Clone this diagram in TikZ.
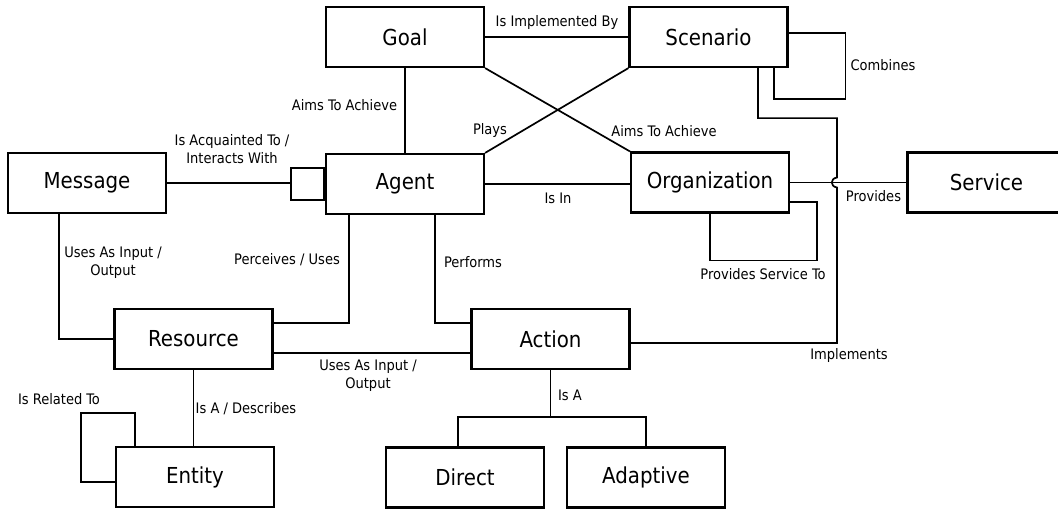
\documentclass[tikz,border=0pt]{standalone}
\usepackage{fontspec}
\setmainfont{DejaVu Sans Condensed}
\usetikzlibrary{calc}
\begin{document}
\begin{tikzpicture}[x=1pt,y=-1pt,
  entity/.style={draw=black,line width=2.2pt,fill=white,minimum width=158pt,minimum height=60pt,
    inner sep=0pt,font=\fontsize{22}{26}\selectfont,text=black},
  port/.style={draw=black,line width=1.8pt,fill=white,minimum width=33pt,minimum height=32pt,inner sep=0pt},
  link/.style={draw=black,line width=1.7pt},
  lbl/.style={font=\fontsize{14.5}{18}\selectfont,text=black,inner sep=0pt,align=center}]
\useasboundingbox (0,0) rectangle (1058,509);

% entities
\node[entity] (goal)     at (405,37)     {Goal};
\node[entity] (scenario) at (708.5,37)   {Scenario};
\node[entity] (message)  at (87,183)     {Message};
\node[entity] (agent)    at (405,184)    {Agent};
\node[entity] (org)      at (710,182.5)  {Organization};
\node[entity] (service)  at (986.5,182.5){Service};
\node[entity] (resource) at (193.5,339)  {Resource};
\node[entity] (action)   at (550.5,339)  {Action};
\node[entity] (entityn)  at (195,477)    {Entity};
\node[entity] (direct)   at (465,477.5)  {Direct};
\node[entity] (adaptive) at (646,477.5)  {Adaptive};
\node[port, anchor=east] (port) at (agent.west) {};

% relations
\draw[link] (goal.east) -- (scenario.west);
\draw[link] (goal.south) -- (agent.north);
\draw[link] (goal.south east) -- (org.north west);
\draw[link] (agent.north east) -- (scenario.south west);
\draw[link] (message.east) -- (message.east -| port.west);
\draw[link] (agent.east) -- (agent.east -| org.west);
\draw[link] (org.east) -- (service.west);
\draw[link] ([xshift=-28pt]message.south) |- (resource.west);
\draw[link] ([xshift=-56pt]agent.south) |- ([yshift=16pt]resource.east);
\draw[link] ([xshift=30pt]agent.south) |- ([yshift=16pt]action.west);
\draw[link] ([yshift=-14pt]resource.east) -- ([yshift=-14pt]action.west);
\draw[link] (resource.south) -- (resource.south |- entityn.north);

% self relations
\draw[link] ([xshift=-60pt]entityn.north) -- ++(0,-33) -| ([xshift=-34pt,yshift=-5pt]entityn.west)
  -- ([yshift=-5pt]entityn.west);
\draw[link] (org.south) -- ++(0,47) -| ([xshift=27pt,yshift=-19.5pt]org.east)
  -- ([yshift=-19.5pt]org.east);
\draw[link] ([yshift=4pt]scenario.east) -- ++(57,0) |- ([xshift=65.5pt,yshift=-31pt]scenario.south)
  -- ([xshift=65.5pt]scenario.south);

% scenario implements action, hopping over the service line
\coordinate (impA) at ([xshift=49.5pt]scenario.south);
\coordinate (impB) at ($(impA)+(79,50)$);
\coordinate (hop) at (impB |- org.east);
\coordinate (actR) at ([yshift=-4pt]action.east);
\draw[link] (impA) -- ++(0,50) -- (impB) -- ([yshift=5pt]hop)
  .. controls ([xshift=-7pt,yshift=4pt]hop) and ([xshift=-7pt,yshift=-4pt]hop) .. ([yshift=-5pt]hop)
  -- (impB |- actR) -- (actR);

% action kinds
\coordinate (split) at ($(action.south)+(0,47)$);
\draw[link] (action.south) -- (split);
\draw[link] ([xshift=-7pt]direct.north) |- (adaptive.north |- split) -- (adaptive.north);

% labels
\node[lbl] (l1)  at (557,22)    {Is Implemented By};
\node[lbl] (l2)  at (344.5,105) {Aims To Achieve};
\node[lbl] (l3)  at (232,149)   {Is Acquainted To /\\Interacts With};
\node[lbl] (l4)  at (490,130)   {Plays};
\node[lbl] (l5)  at (664,131)   {Aims To Achieve};
\node[lbl] (l6)  at (883,65)    {Combines};
\node[lbl] (l7)  at (558,198)   {Is In};
\node[lbl] (l8)  at (873.5,196) {Provides};
\node[lbl] (l9)  at (763,274)   {Provides Service To};
\node[lbl] (l10) at (113,262.5) {Uses As Input /\\Output};
\node[lbl] (l11) at (287,260)   {Perceives / Uses};
\node[lbl] (l12) at (473,262)   {Performs};
\node[lbl] (l13) at (368,375.5) {Uses As Input /\\Output};
\node[lbl] (l14) at (849,355)   {Implements};
\node[lbl] (l15) at (59,399)    {Is Related To};
\node[lbl] (l16) at (246,409)   {Is A / Describes};
\node[lbl] (l17) at (570,395)   {Is A};
\end{tikzpicture}
\end{document}
